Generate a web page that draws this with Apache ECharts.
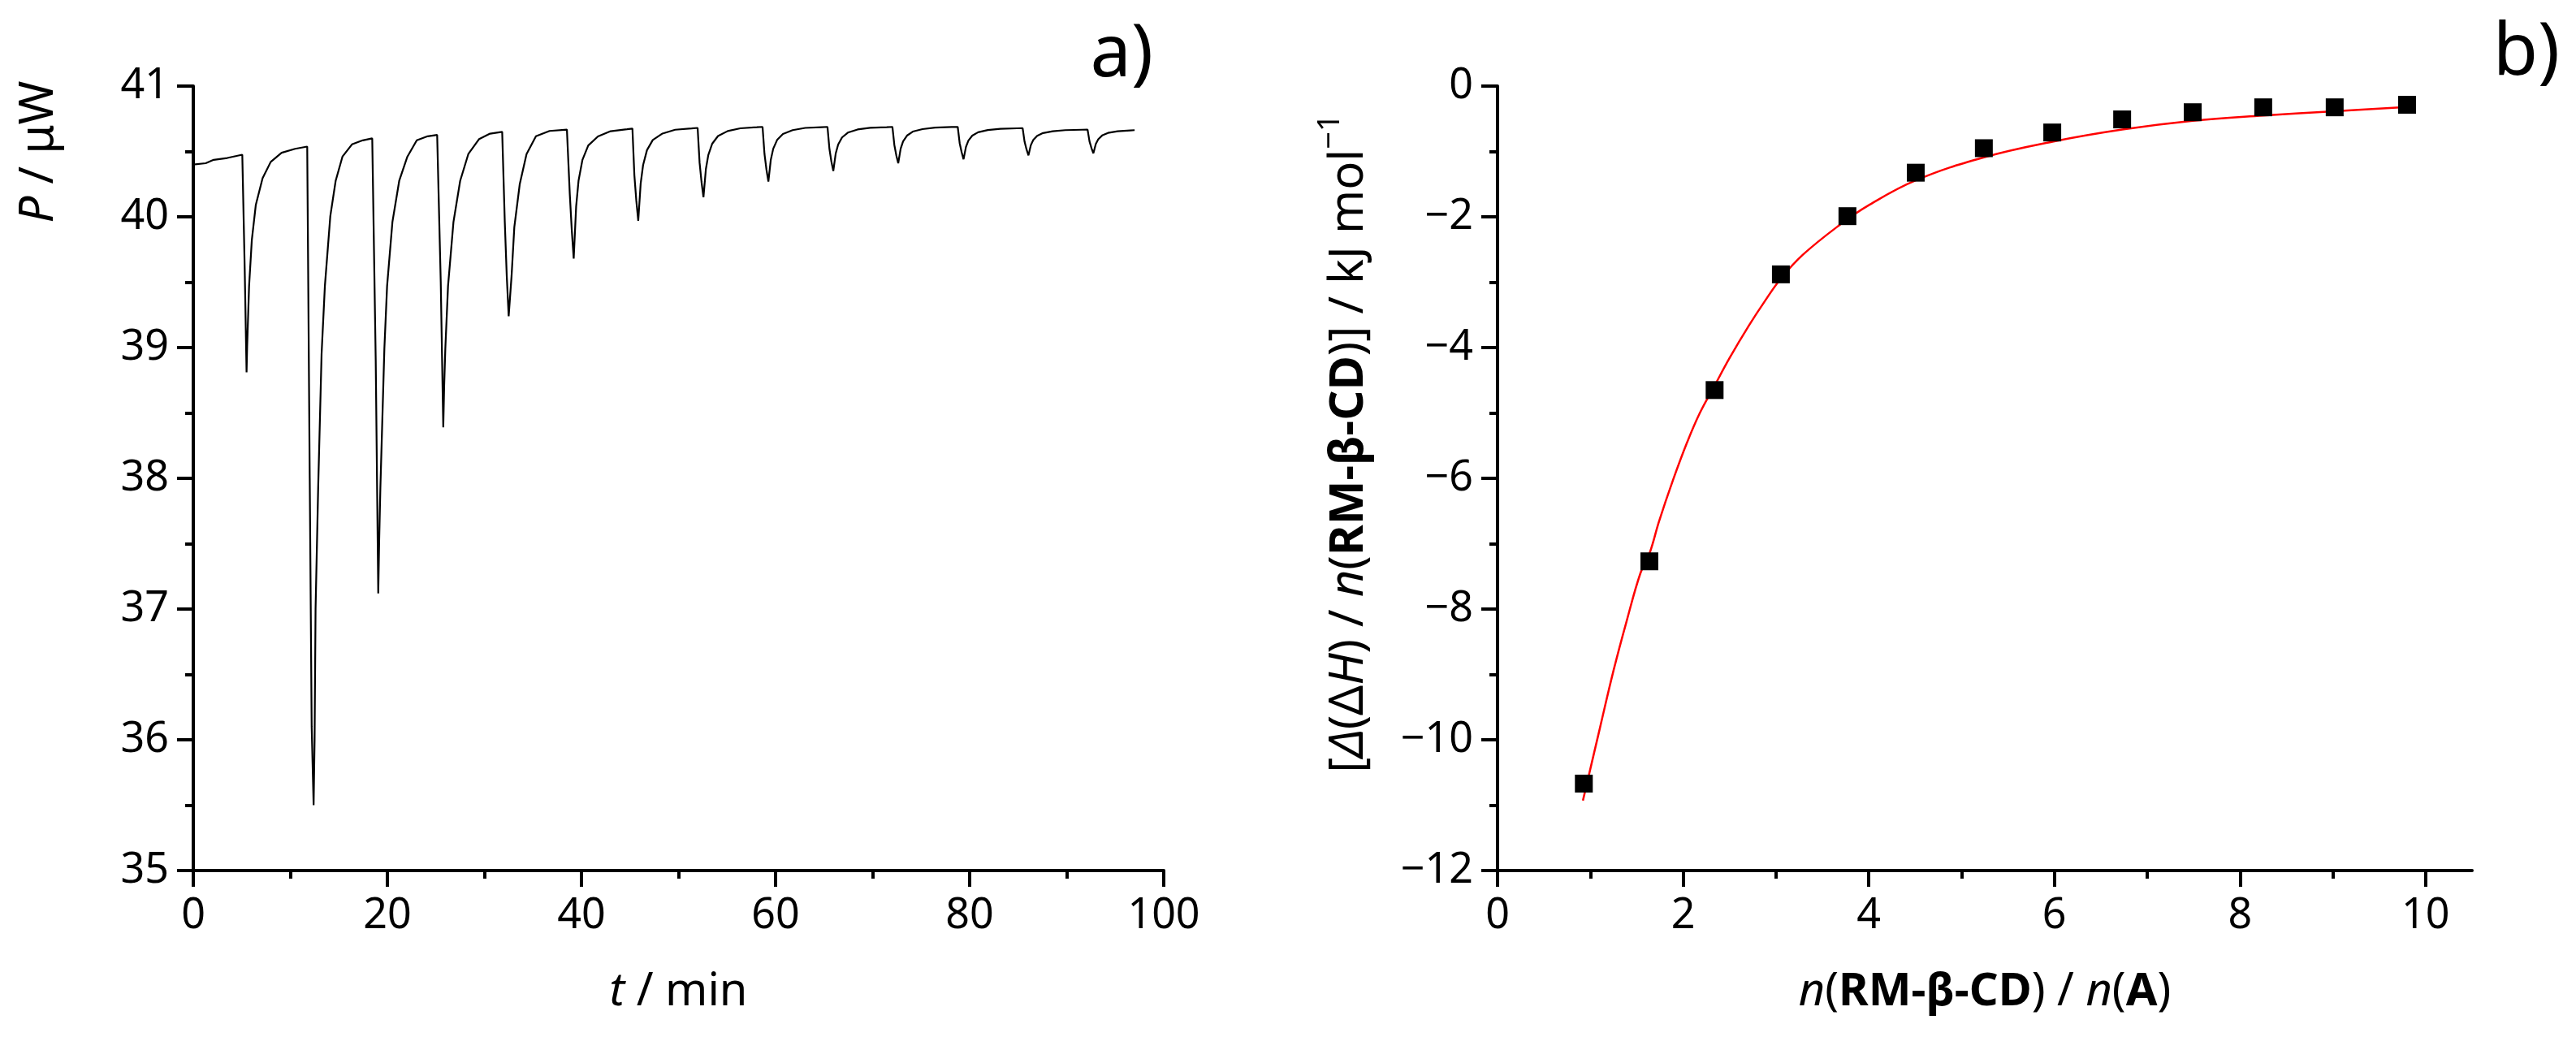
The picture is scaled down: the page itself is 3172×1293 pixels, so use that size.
<!DOCTYPE html>
<html>
<head>
<meta charset="utf-8">
<script src="https://cdn.jsdelivr.net/npm/echarts@6/dist/echarts.min.js"></script>
<style>
html,body{margin:0;padding:0;background:#fff;}
#chart{width:3172px;height:1293px;}
</style>
</head>
<body>
<div id="chart"></div>
<script>
// ---- panel a) thermogram: time (min) and power (µW) ----
const thermoT = [
  0, 1.28, 2.1, 3.5, 5.05,
  5.12, 5.3, 5.49, 5.55, 5.75, 6.03, 6.44, 7.14, 7.98, 9.1, 10.49, 11.74, 11.83,
  12.0, 12.2, 12.4, 12.5, 12.6, 12.87, 13.22, 13.56, 14.12, 14.67, 15.37, 16.35, 17.46, 18.44, 18.55,
  18.8, 19.06, 19.15, 19.28, 19.69, 19.97, 20.52, 21.22, 22.06, 23.03, 24.15, 25.13, 25.27,
  25.5, 25.76, 25.85, 25.97, 26.25, 26.81, 27.5, 28.34, 29.46, 30.58, 31.83, 31.92,
  32.1, 32.3, 32.5, 32.8, 33.08, 33.64, 34.34, 35.31, 36.71, 38.5, 38.6,
  38.8, 39.0, 39.2, 39.45, 39.7, 40.1, 40.7, 41.7, 43.0, 44.7, 45.25,
  45.45, 45.65, 45.85, 46.1, 46.35, 46.75, 47.35, 48.35, 49.65, 51.35, 51.97,
  52.17, 52.37, 52.57, 52.82, 53.07, 53.47, 54.07, 55.07, 56.37, 58.07, 58.66,
  58.86, 59.06, 59.26, 59.51, 59.76, 60.16, 60.76, 61.76, 63.06, 64.76, 65.35,
  65.55, 65.75, 65.95, 66.2, 66.45, 66.85, 67.45, 68.45, 69.75, 71.45, 72.04,
  72.24, 72.44, 72.64, 72.89, 73.14, 73.54, 74.14, 75.14, 76.44, 78.14, 78.77,
  78.97, 79.17, 79.37, 79.62, 79.87, 80.27, 80.87, 81.87, 83.17, 84.87, 85.46,
  85.66, 85.86, 86.06, 86.31, 86.56, 86.96, 87.56, 88.56, 89.86, 91.56, 92.15,
  92.35, 92.55, 92.75, 93.0, 93.25, 93.65, 94.25, 95.25, 96.55, 97.0
];
const thermoP = [
  40.40, 40.41, 40.436, 40.45, 40.475,
  40.47, 39.6, 38.81, 39.01, 39.47, 39.82, 40.09, 40.295, 40.42, 40.49, 40.52, 40.537, 40.54,
  38.0, 36.1, 35.5, 36.0, 37.0, 37.93, 38.95, 39.47, 40.005, 40.275, 40.46, 40.554, 40.585, 40.60, 40.60,
  38.9, 37.12, 37.5, 37.93, 38.99, 39.47, 39.96, 40.275, 40.46, 40.585, 40.616, 40.626, 40.63,
  39.5, 38.39, 38.7, 38.99, 39.47, 39.96, 40.275, 40.48, 40.595, 40.636, 40.65, 40.65,
  39.96, 39.55, 39.24, 39.55, 39.92, 40.25, 40.48, 40.616, 40.657, 40.667, 40.667,
  40.17, 39.90, 39.68, 40.078, 40.277, 40.436, 40.546, 40.615, 40.655, 40.67, 40.675,
  40.32, 40.125, 39.97, 40.254, 40.396, 40.51, 40.588, 40.637, 40.666, 40.676, 40.68,
  40.415, 40.267, 40.15, 40.365, 40.473, 40.559, 40.618, 40.656, 40.677, 40.685, 40.688,
  40.48, 40.362, 40.27, 40.437, 40.521, 40.588, 40.634, 40.663, 40.68, 40.686, 40.688,
  40.52, 40.424, 40.35, 40.485, 40.553, 40.607, 40.644, 40.668, 40.681, 40.686, 40.688,
  40.55, 40.471, 40.41, 40.521, 40.577, 40.621, 40.652, 40.671, 40.682, 40.687, 40.688,
  40.564, 40.495, 40.44, 40.535, 40.583, 40.621, 40.647, 40.664, 40.673, 40.677, 40.678,
  40.574, 40.516, 40.47, 40.549, 40.588, 40.62, 40.641, 40.655, 40.663, 40.666, 40.667,
  40.577, 40.526, 40.486, 40.558, 40.593, 40.622, 40.642, 40.654, 40.661, 40.663
];

// ---- panel b) measured points ----
const ratio = [0.93, 1.636, 2.339, 3.053, 3.77, 4.506, 5.24, 5.977, 6.73, 7.49, 8.25, 9.02, 9.80];
const dH = [-10.67, -7.27, -4.65, -2.88, -1.99, -1.325, -0.95, -0.71, -0.51, -0.40, -0.325, -0.325, -0.286];

// ---- panel b) fitted curve ----
const fitX = [0.92, 1.10, 1.25, 1.39, 1.54, 1.64, 1.74, 1.89, 2.04, 2.18, 2.34, 2.50, 2.71, 2.88, 3.05, 3.29, 3.70, 3.99, 4.51, 5.24, 5.98, 6.73, 7.49, 8.25, 9.02, 9.80];
const fitY = [-10.93, -9.84, -8.94, -8.19, -7.45, -7.14, -6.66, -6.03, -5.46, -5.00, -4.58, -4.16, -3.66, -3.29, -2.95, -2.58, -2.11, -1.83, -1.44, -1.09, -0.85, -0.665, -0.53, -0.45, -0.385, -0.32];

// ---- tick values ----
const tTicks = [0, 20, 40, 60, 80, 100];
const pTicks = [35, 36, 37, 38, 39, 40, 41];
const rTicks = [0, 2, 4, 6, 8, 10];
const rMinorTicks = [1, 3, 5, 7, 9];
const hTicks = [-12, -10, -8, -6, -4, -2, 0];

const FONT = 'Noto Sans';
const BLACK = '#000';
const lineS = {color: BLACK, width: 4};

function richSet(size) {
  return {
    i: {fontStyle: 'italic', fontSize: size, fontFamily: FONT, color: BLACK, fill: BLACK},
    b: {fontWeight: 'bold', fontSize: size, fontFamily: FONT, color: BLACK, fill: BLACK},
    r: {fontSize: size, fontFamily: FONT, color: BLACK, fill: BLACK}
  };
}

function baseAxis(extra) {
  return Object.assign({
    type: 'value',
    splitLine: {show: false},
    axisLine: {show: true, onZero: false, lineStyle: lineS},
    axisTick: {show: true, length: 20, lineStyle: lineS},
    minorTick: {show: true, splitNumber: 2, length: 10, lineStyle: lineS},
    axisLabel: {fontSize: 52, fontFamily: FONT, color: BLACK, margin: 30,
      formatter: v => String(v).replace('-', '\u2212')}
  }, extra);
}

const chart = echarts.init(document.getElementById('chart'), null, {renderer: 'canvas'});
chart.setOption({
  animation: false,
  backgroundColor: '#fff',
  grid: [
    {left: 238, right: 1739, top: 106, bottom: 221},
    {left: 1844, right: 128, top: 106, bottom: 221}
  ],
  xAxis: [
    baseAxis({gridIndex: 0, position: 'bottom', min: tTicks[0], max: tTicks[tTicks.length - 1], interval: 20,
      name: '{i|t}{r| / min}', nameLocation: 'middle', nameGap: 122,
      nameTextStyle: {fontSize: 56, fontFamily: FONT, color: BLACK, rich: richSet(56)}}),
    baseAxis({gridIndex: 1, position: 'bottom', min: 0, max: 10.5, interval: 2,
      minorTick: {show: false},
      axisTick: {show: true, length: 20, lineStyle: lineS, customValues: rTicks},
      axisLabel: {fontSize: 52, fontFamily: FONT, color: BLACK, margin: 30, customValues: rTicks},
      name: '{i|n}{r|(}{b|RM-β-CD}{r|) / }{i|n}{r|(}{b|A}{r|)}', nameLocation: 'middle', nameGap: 122,
      nameTextStyle: {fontSize: 56, fontFamily: FONT, color: BLACK, rich: richSet(56)}}),
    baseAxis({gridIndex: 1, position: 'bottom', min: 0, max: 10.5,
      axisLine: {show: false, onZero: false},
      minorTick: {show: false},
      axisTick: {show: true, length: 10, lineStyle: lineS, customValues: rMinorTicks},
      axisLabel: {show: false}})
  ],
  yAxis: [
    baseAxis({gridIndex: 0, position: 'left', min: pTicks[0], max: pTicks[pTicks.length - 1], interval: 1}),
    baseAxis({gridIndex: 1, position: 'left', min: hTicks[0], max: hTicks[hTicks.length - 1], interval: 2})
  ],
  series: [
    {
      type: 'line', xAxisIndex: 0, yAxisIndex: 0,
      data: thermoT.map((t, i) => [t, thermoP[i]]),
      showSymbol: false, symbol: 'none',
      lineStyle: {color: BLACK, width: 2.2},
      z: 3
    },
    {
      type: 'line', xAxisIndex: 1, yAxisIndex: 1,
      data: fitX.map((x, i) => [x, fitY[i]]),
      smooth: 0.4, showSymbol: false, symbol: 'none',
      lineStyle: {color: '#ff0000', width: 2.5},
      z: 3
    },
    {
      type: 'scatter', xAxisIndex: 1, yAxisIndex: 1,
      data: ratio.map((x, i) => [x, dH[i]]),
      symbol: 'rect', symbolSize: 22,
      itemStyle: {color: BLACK, opacity: 1},
      z: 4
    }
  ],
  graphic: [
    {
      type: 'text', x: 48, y: 187, rotation: Math.PI / 2,
      style: {text: '{i|P}{r| / μW}', fontSize: 58, fontFamily: FONT, fill: BLACK,
        align: 'center', verticalAlign: 'middle', rich: richSet(58)}
    },
    {
      type: 'text', x: 1661, y: 546, rotation: Math.PI / 2,
      style: {
        text: '{r|[}{i|Δ}{r|(Δ}{i|H}{r|) / }{i|n}{r|(}{b|RM-β-CD}{r|)] / kJ mol}{s|\u22121}',
        fontSize: 58, fontFamily: FONT, fill: BLACK,
        align: 'center', verticalAlign: 'middle',
        rich: Object.assign(richSet(58), {
          r: {fontSize: 58, fontFamily: FONT, fill: BLACK, lineHeight: 84},
          s: {fontSize: 38, fontFamily: FONT, fill: BLACK, verticalAlign: 'top', lineHeight: 40}
        })
      }
    },
    {
      type: 'text', x: 1420, y: 68,
      style: {text: 'a)', fontSize: 90, fontFamily: FONT, fill: BLACK, align: 'right', verticalAlign: 'middle'}
    },
    {
      type: 'text', x: 3152, y: 66,
      style: {text: 'b)', fontSize: 90, fontFamily: FONT, fill: BLACK, align: 'right', verticalAlign: 'middle'}
    }
  ]
});
</script>
</body>
</html>
